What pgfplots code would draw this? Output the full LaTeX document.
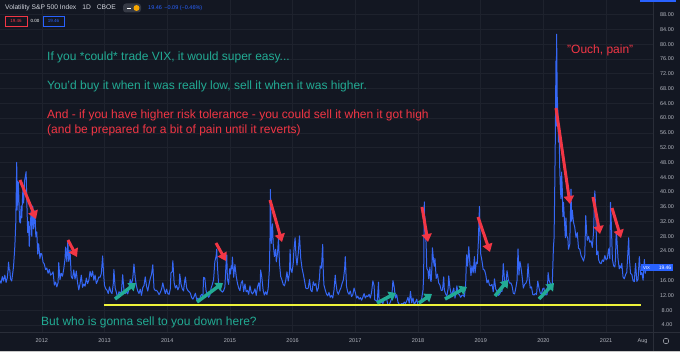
\documentclass[border=0pt]{standalone}
\usepackage{pgfplots}
\pgfplotsset{compat=1.18}
\usepackage{pgfplotstable}
\usepackage{fontspec}
\setmainfont{Liberation Sans}
\usetikzlibrary{arrows.meta}
\definecolor{bg}{HTML}{131722}
\definecolor{gridc}{HTML}{1E222D}
\definecolor{sepc}{HTML}{2A2E39}
\definecolor{scalec}{HTML}{B2B5BE}
\definecolor{headc}{HTML}{D1D4DC}
\definecolor{tvblue}{HTML}{2962FF}
\definecolor{linec}{HTML}{3567F5}
\definecolor{tvred}{HTML}{F23645}
\definecolor{tvteal}{HTML}{22AB94}
\definecolor{tvyellow}{HTML}{EEF23A}
\definecolor{pillc}{HTML}{363A45}
\definecolor{orangec}{HTML}{F7A600}
\definecolor{borderc}{HTML}{C8C8C8}

\pgfplotstableread{
t v
2011.33 16.0
2011.35 15.3
2011.37 17.1
2011.39 15.9
2011.41 17.5
2011.43 15.5
2011.45 16.8
2011.46 18.5
2011.47 21.0
2011.48 19.0
2011.49 18.9
2011.50 16.5
2011.52 15.9
2011.54 18.5
2011.55 20.0
2011.57 25.3
2011.585 31.7
2011.60 48.0
2011.605 35.1
2011.61 43.0
2011.615 36.4
2011.625 42.7
2011.635 38.0
2011.645 32.0
2011.66 31.6
2011.67 36.2
2011.68 33.0
2011.69 37.3
2011.70 41.4
2011.71 37.0
2011.725 43.0
2011.75 45.5
2011.76 38.0
2011.775 29.0
2011.79 32.0
2011.80 25.3
2011.81 29.3
2011.83 34.8
2011.84 28.0
2011.855 36.2
2011.87 30.0
2011.89 35.0
2011.905 27.8
2011.92 29.2
2011.935 23.2
2011.95 26.0
2011.97 22.0
2011.985 23.4
2012.00 23.2
2012.02 21.0
2012.04 20.5
2012.06 19.0
2012.08 19.4
2012.10 18.0
2012.12 19.0
2012.14 17.5
2012.16 17.8
2012.18 18.4
2012.20 14.8
2012.22 15.6
2012.24 14.3
2012.26 15.5
2012.27 20.9
2012.29 16.3
2012.31 18.0
2012.33 17.2
2012.35 19.2
2012.37 21.9
2012.38 25.1
2012.40 21.1
2012.415 26.7
2012.43 21.2
2012.45 24.3
2012.47 17.1
2012.49 16.5
2012.51 18.9
2012.53 16.4
2012.55 18.6
2012.57 15.5
2012.59 13.5
2012.61 15.2
2012.63 17.5
2012.65 14.2
2012.67 15.1
2012.69 14.5
2012.71 16.7
2012.73 15.2
2012.75 16.1
2012.77 18.5
2012.79 17.1
2012.81 18.6
2012.83 16.1
2012.85 17.5
2012.87 15.2
2012.89 16.0
2012.91 17.0
2012.93 16.9
2012.95 18.0
2012.97 22.7
2012.985 18.0
2013.00 14.7
2013.02 13.8
2013.04 13.4
2013.06 12.5
2013.08 14.3
2013.10 13.0
2013.12 12.5
2013.14 15.2
2013.15 19.0
2013.17 14.0
2013.19 12.8
2013.21 11.3
2013.23 13.0
2013.25 12.7
2013.27 13.0
2013.29 17.6
2013.31 13.5
2013.33 12.5
2013.35 13.0
2013.37 12.4
2013.39 13.8
2013.41 16.3
2013.43 15.0
2013.45 16.5
2013.47 20.5
2013.49 16.8
2013.51 14.5
2013.53 13.2
2013.55 12.5
2013.57 13.7
2013.59 12.0
2013.61 14.1
2013.63 14.7
2013.65 17.0
2013.67 14.5
2013.69 13.2
2013.71 15.0
2013.73 16.6
2013.75 17.7
2013.77 20.3
2013.79 13.8
2013.81 13.3
2013.83 13.4
2013.85 12.9
2013.87 12.2
2013.89 12.8
2013.91 13.7
2013.93 15.4
2013.95 13.8
2013.97 12.5
2013.99 13.7
2014.01 12.5
2014.03 12.3
2014.05 13.8
2014.06 18.1
2014.08 18.4
2014.09 21.4
2014.11 15.5
2014.13 14.0
2014.15 14.7
2014.17 13.5
2014.19 14.3
2014.20 17.8
2014.22 15.1
2014.24 13.8
2014.26 13.2
2014.28 16.0
2014.29 17.0
2014.31 14.0
2014.33 13.3
2014.35 13.0
2014.37 12.6
2014.39 11.4
2014.41 11.0
2014.43 11.7
2014.45 12.6
2014.47 10.9
2014.49 11.3
2014.51 10.3
2014.53 11.8
2014.55 12.3
2014.57 11.8
2014.58 16.9
2014.60 16.7
2014.62 13.2
2014.64 12.3
2014.66 11.5
2014.68 12.0
2014.70 14.0
2014.72 15.0
2014.74 16.3
2014.76 21.2
2014.78 22.6
2014.79 24.5
2014.80 20.3
2014.82 15.0
2014.84 14.0
2014.86 13.3
2014.88 12.9
2014.90 13.3
2014.92 14.3
2014.94 21.1
2014.95 23.0
2014.96 16.5
2014.98 15.0
2014.995 19.2
2015.01 17.8
2015.02 20.0
2015.03 19.2
2015.04 22.4
2015.06 16.9
2015.08 20.4
2015.10 17.3
2015.12 15.3
2015.14 14.0
2015.16 13.3
2015.18 15.4
2015.20 16.0
2015.22 13.0
2015.24 15.1
2015.26 13.0
2015.28 13.4
2015.30 12.3
2015.32 14.6
2015.34 12.9
2015.36 12.4
2015.38 12.9
2015.40 13.8
2015.42 12.0
2015.44 14.3
2015.46 15.4
2015.48 13.2
2015.49 18.9
2015.51 16.8
2015.53 13.4
2015.55 12.1
2015.57 13.0
2015.59 12.2
2015.61 13.8
2015.63 19.1
2015.64 28.0
2015.645 40.7
2015.65 36.0
2015.66 26.1
2015.68 31.4
2015.69 26.1
2015.71 22.5
2015.73 24.5
2015.74 21.1
2015.76 23.6
2015.775 27.6
2015.79 20.9
2015.81 17.1
2015.83 16.2
2015.85 15.0
2015.87 14.6
2015.89 16.0
2015.91 18.4
2015.93 15.9
2015.95 18.0
2015.96 24.4
2015.97 19.3
2015.99 18.2
2016.01 20.7
2016.02 24.0
2016.04 27.6
2016.055 22.4
2016.07 20.2
2016.09 23.4
2016.11 28.1
2016.13 22.0
2016.15 19.4
2016.17 17.8
2016.19 16.0
2016.21 14.0
2016.23 13.8
2016.25 14.0
2016.27 16.3
2016.29 13.4
2016.31 13.0
2016.33 15.7
2016.35 14.7
2016.37 15.2
2016.39 13.1
2016.41 14.0
2016.43 17.0
2016.44 20.0
2016.46 19.4
2016.48 25.8
2016.49 18.0
2016.50 14.8
2016.52 13.5
2016.54 12.4
2016.56 11.9
2016.58 12.8
2016.60 11.5
2016.62 12.0
2016.64 11.3
2016.66 13.4
2016.68 17.5
2016.69 15.4
2016.71 13.0
2016.73 12.3
2016.75 13.3
2016.77 14.0
2016.79 15.3
2016.81 16.2
2016.83 19.3
2016.84 22.5
2016.86 14.4
2016.88 12.9
2016.90 12.3
2016.92 13.2
2016.94 11.7
2016.96 12.2
2016.98 14.0
2017.00 12.8
2017.02 11.3
2017.04 11.8
2017.06 11.0
2017.08 11.4
2017.10 10.7
2017.12 11.5
2017.14 12.5
2017.16 11.3
2017.18 11.9
2017.20 11.7
2017.22 12.3
2017.24 11.3
2017.26 12.9
2017.28 15.96
2017.30 14.6
2017.31 10.8
2017.33 10.6
2017.35 10.4
2017.37 15.6
2017.38 10.4
2017.40 10.0
2017.42 10.4
2017.44 9.8
2017.46 10.9
2017.48 11.4
2017.50 11.0
2017.52 9.5
2017.54 9.4
2017.56 10.3
2017.58 11.1
2017.60 16.0
2017.62 14.3
2017.64 11.3
2017.66 12.2
2017.68 10.2
2017.70 9.6
2017.72 9.5
2017.74 9.8
2017.76 9.6
2017.78 10.2
2017.80 9.8
2017.82 10.5
2017.84 11.5
2017.86 9.9
2017.88 13.1
2017.90 10.0
2017.92 11.3
2017.94 9.4
2017.96 10.2
2017.98 11.0
2018.00 9.2
2018.02 9.5
2018.04 10.2
2018.06 11.3
2018.08 13.5
2018.09 17.3
2018.10 37.3
2018.105 30.0
2018.11 33.5
2018.12 29.1
2018.13 25.6
2018.14 19.3
2018.16 18.7
2018.17 16.5
2018.19 19.6
2018.20 16.0
2018.21 15.8
2018.22 19.0
2018.23 24.9
2018.25 21.0
2018.26 19.9
2018.27 22.0
2018.29 16.6
2018.31 17.8
2018.33 15.4
2018.35 14.8
2018.37 13.4
2018.39 13.4
2018.41 17.0
2018.42 13.5
2018.44 12.4
2018.46 11.9
2018.48 13.8
2018.49 17.3
2018.51 14.0
2018.53 12.2
2018.55 12.8
2018.57 14.0
2018.59 11.3
2018.61 13.2
2018.62 14.6
2018.64 12.5
2018.66 12.2
2018.68 11.5
2018.70 12.0
2018.72 12.1
2018.74 11.6
2018.76 15.0
2018.775 23.0
2018.79 19.9
2018.81 25.2
2018.83 20.0
2018.845 17.4
2018.86 20.0
2018.88 18.1
2018.90 22.5
2018.91 18.1
2018.93 21.0
2018.945 20.6
2018.96 25.6
2018.98 36.1
2018.99 28.3
2019.00 23.2
2019.02 21.4
2019.04 19.0
2019.06 18.9
2019.08 17.7
2019.10 15.4
2019.12 16.2
2019.14 14.8
2019.16 14.6
2019.18 15.0
2019.20 13.0
2019.22 16.5
2019.24 13.7
2019.26 13.1
2019.28 12.0
2019.30 12.3
2019.32 13.1
2019.34 13.1
2019.36 20.6
2019.38 16.0
2019.40 14.8
2019.42 18.7
2019.44 16.3
2019.46 15.3
2019.48 15.4
2019.50 14.6
2019.52 12.6
2019.54 12.4
2019.56 14.0
2019.58 16.1
2019.595 24.6
2019.61 17.5
2019.625 21.2
2019.64 19.9
2019.66 17.2
2019.68 14.0
2019.70 15.0
2019.72 15.3
2019.74 16.2
2019.755 20.6
2019.77 17.0
2019.79 14.0
2019.81 14.3
2019.83 12.3
2019.85 12.1
2019.87 12.5
2019.89 12.3
2019.91 15.9
2019.93 14.0
2019.95 12.6
2019.97 12.5
2019.99 13.8
2020.01 14.0
2020.02 12.6
2020.04 12.1
2020.06 12.3
2020.075 18.2
2020.09 16.1
2020.11 15.2
2020.13 13.7
2020.14 14.4
2020.16 25.0
2020.17 27.6
2020.18 40.1
2020.19 54.5
2020.20 75.5
2020.205 57.8
2020.21 82.7
2020.215 75.9
2020.22 66.0
2020.23 61.7
2020.24 53.5
2020.25 57.1
2020.26 46.8
2020.27 41.2
2020.28 38.2
2020.29 45.4
2020.30 41.4
2020.31 33.3
2020.32 37.2
2020.33 34.2
2020.35 27.6
2020.36 33.0
2020.37 28.2
2020.39 27.5
2020.40 24.5
2020.42 25.8
2020.44 40.8
2020.45 32.1
2020.46 35.1
2020.48 31.8
2020.50 30.4
2020.52 27.7
2020.54 29.0
2020.56 24.8
2020.58 24.5
2020.60 22.8
2020.62 22.1
2020.64 21.3
2020.66 22.9
2020.675 33.6
2020.69 29.0
2020.70 26.9
2020.72 28.0
2020.74 26.4
2020.76 26.8
2020.78 25.0
2020.80 29.2
2020.82 40.3
2020.835 35.5
2020.85 23.0
2020.87 24.0
2020.88 21.7
2020.90 20.8
2020.92 20.6
2020.94 21.6
2020.96 21.2
2020.98 22.8
2021.00 21.6
2021.02 22.0
2021.04 24.6
2021.06 21.9
2021.07 37.2
2021.08 33.1
2021.10 21.8
2021.12 20.0
2021.14 19.7
2021.15 22.1
2021.16 28.9
2021.17 27.9
2021.19 21.9
2021.21 19.2
2021.22 20.0
2021.24 19.4
2021.25 20.7
2021.27 17.0
2021.29 16.5
2021.31 17.6
2021.33 18.3
2021.36 27.6
2021.37 22.2
2021.39 17.9
2021.41 17.7
2021.43 16.0
2021.45 15.7
2021.47 20.7
2021.49 15.8
2021.51 16.4
2021.53 22.5
2021.55 17.6
2021.57 18.2
2021.59 16.1
2021.61 21.7
2021.625 18.0
2021.64 19.46
}\vix

\begin{document}
\begin{tikzpicture}
\fill[bg] (0,0) rectangle (680pt,352pt);
\begin{axis}[
  at={(0pt,20pt)}, anchor=south west,
  scale only axis, width=653pt, height=332pt,
  xmin=2011.3333, xmax=2021.748, ymin=2.1056, ymax=91.958,
  axis line style={draw=none},
  major tick length=0pt,
  grid=major, grid style={gridc, line width=0.6pt},
  xtick={2012,2013,2014,2015,2016,2017,2018,2019,2020,2021},
  xticklabels={2012,2013,2014,2015,2016,2017,2018,2019,2020,2021},
  extra x ticks={2021.58}, extra x tick labels={Aug},
  extra x tick style={grid=none},
  xticklabel style={font=\fontsize{5.5}{6}\selectfont, text=scalec, anchor=center, yshift=-9pt},
  ytick={4,8,12,16,24,28,32,36,40,44,48,52,56,60,64,68,72,76,80,84,88},
  extra y ticks={20}, extra y tick labels={},
  yticklabel pos=right,
  yticklabel={\pgfmathprintnumber[fixed,fixed zerofill,precision=2]{\tick}},
  /pgf/number format/assume math mode=true,
  yticklabel style={font=\fontsize{5.5}{6}\selectfont, text=scalec, anchor=center, xshift=14pt},
]
\addplot[linec, line width=1pt, line join=round] table[x=t,y=v] {\vix};
\addplot[tvyellow, line width=2.5pt] coordinates {(2012.99,9.41) (2021.56,9.41)};
\end{axis}
\begin{scope}[shift={(0pt,352pt)}, x=1pt, y=-1pt]
  % separators
  \draw[sepc, line width=0.8pt] (653,0) -- (653,352);
  \draw[sepc, line width=0.8pt] (0,332) -- (680,332);
  \fill[borderc] (0,350.6) rectangle (680,352);
  \fill[tvblue] (640,0) rectangle (676,1.6);
  % header
  \node[anchor=west, inner sep=0, text=headc, font=\fontsize{6.7}{7}\selectfont] at (5,8) {Volatility S\&P 500 Index\, \, 1D\, \, CBOE};
  \fill[pillc, rounded corners=3pt] (123,3.5) rectangle (141,12.5);
  \draw[white, line width=0.8pt] (127,8) -- (131,8);
  \fill[orangec] (136.5,8) circle (3);
  \node[anchor=west, inner sep=0, text=tvblue, font=\fontsize{5.5}{6}\selectfont] at (148,8.5) {19.46\, −0.09 (−0.46\%)};
  \draw[tvred, line width=0.6pt] (5,16) rectangle (27,26);
  \node[inner sep=0, text=tvred, font=\fontsize{4.5}{5}\selectfont] at (16,21) {19.46};
  \node[inner sep=0, text=white, font=\fontsize{4.5}{5}\selectfont] at (35,21) {0.00};
  \draw[tvblue, line width=0.6pt] (43,16) rectangle (64,26);
  \node[inner sep=0, text=tvblue, font=\fontsize{4.5}{5}\selectfont] at (53.5,21) {19.46};
  % price label
  \fill[tvblue] (641,264.5) rectangle (673,271.5);
  \node[inner sep=0, text=white, font=\fontsize{4.3}{5}\selectfont] at (646.5,268) {VIX};
  \node[inner sep=0, text=white, font=\fontsize{5}{5}\selectfont] at (665,268) {19.46};
  \draw[scalec, line width=0.5pt] (666,341) circle (2.8);
  % annotations text
  \begin{scope}[every node/.style={anchor=west, inner sep=0, font=\fontsize{12}{13}\selectfont}]
  \node[text=tvteal] at (47,57) {If you *could* trade VIX, it would super easy...};
  \node[text=tvteal] at (47,86) {You'd buy it when it was really low, sell it when it was higher.};
  \node[text=tvred] at (47,115) {And - if you have higher risk tolerance - you could sell it when it got high};
  \node[text=tvred] at (47,130) {(and be prepared for a bit of pain until it reverts)};
  \node[text=tvred] at (567,50) {"Ouch, pain"};
  \node[text=tvteal] at (41,322) {But who is gonna sell to you down here?};
  \end{scope}
  % red arrows
  \begin{scope}[tvred, line width=3pt, -{Triangle[length=8pt,width=10pt]}]
  \draw (20,180) -- (36,219);
  \draw (68,240) -- (77,257);
  \draw (216,243) -- (226,261);
  \draw (270,200) -- (282,242);
  \draw (422,207) -- (428,242);
  \draw (478,217) -- (490,252);
  \draw (556,108) -- (570,204);
  \draw (593,197) -- (600,234);
  \draw (612,208) -- (621,238);
  \end{scope}
  % green arrows
  \begin{scope}[tvteal, line width=3.5pt, -{Triangle[length=7pt,width=10pt]}]
  \draw (115,299) -- (136,283);
  \draw (197,302) -- (223,283);
  \draw (377,303) -- (396,293);
  \draw (419,303) -- (432,294);
  \draw (445,299) -- (467,287);
  \draw (495,296) -- (508,280);
  \draw (539,299) -- (554,283);
  \end{scope}
\end{scope}
\pgfresetboundingbox
\path (0,0) rectangle (680pt,352pt);
\end{tikzpicture}
\end{document}
